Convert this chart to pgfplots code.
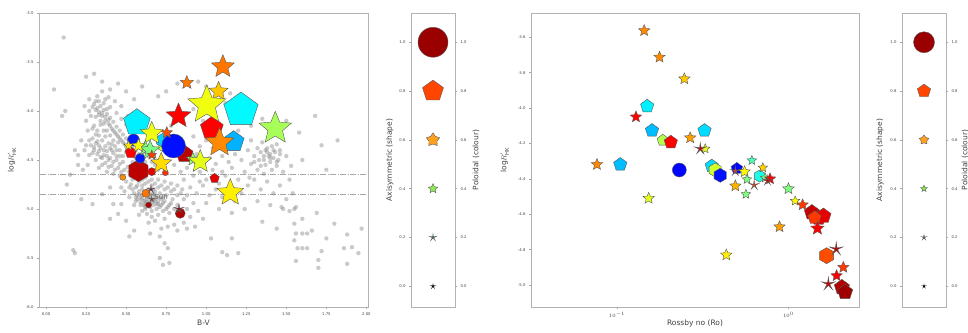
\documentclass[border=0pt]{standalone}
\usepackage{pgfplots}
\pgfplotsset{compat=1.18}
\usepackage{pgfplotstable}
\usepackage{fontspec}
\setmainfont{DejaVu Sans}

\newcommand\mystarpath[1]{%
  \pgfpathmoveto{\pgfpointpolar{90}{\pgfplotmarksize}}%
  \pgfpathlineto{\pgfpointpolar{126}{#1*\pgfplotmarksize}}%
  \pgfpathlineto{\pgfpointpolar{162}{\pgfplotmarksize}}%
  \pgfpathlineto{\pgfpointpolar{198}{#1*\pgfplotmarksize}}%
  \pgfpathlineto{\pgfpointpolar{234}{\pgfplotmarksize}}%
  \pgfpathlineto{\pgfpointpolar{270}{#1*\pgfplotmarksize}}%
  \pgfpathlineto{\pgfpointpolar{306}{\pgfplotmarksize}}%
  \pgfpathlineto{\pgfpointpolar{342}{#1*\pgfplotmarksize}}%
  \pgfpathlineto{\pgfpointpolar{18}{\pgfplotmarksize}}%
  \pgfpathlineto{\pgfpointpolar{54}{#1*\pgfplotmarksize}}%
  \pgfpathclose\pgfusepathqfillstroke}
\pgfdeclareplotmark{mst}{\mystarpath{0.45}}
\pgfdeclareplotmark{mfst}{\mystarpath{0.6}}
\pgfdeclareplotmark{mthin}{\mystarpath{0.2}}
\pgfdeclareplotmark{mpent}{%
  \pgfpathmoveto{\pgfpointpolar{90}{\pgfplotmarksize}}%
  \pgfpathlineto{\pgfpointpolar{162}{\pgfplotmarksize}}%
  \pgfpathlineto{\pgfpointpolar{234}{\pgfplotmarksize}}%
  \pgfpathlineto{\pgfpointpolar{306}{\pgfplotmarksize}}%
  \pgfpathlineto{\pgfpointpolar{18}{\pgfplotmarksize}}%
  \pgfpathclose\pgfusepathqfillstroke}
\pgfdeclareplotmark{mhex}{%
  \pgfpathmoveto{\pgfpointpolar{90}{\pgfplotmarksize}}%
  \pgfpathlineto{\pgfpointpolar{150}{\pgfplotmarksize}}%
  \pgfpathlineto{\pgfpointpolar{210}{\pgfplotmarksize}}%
  \pgfpathlineto{\pgfpointpolar{270}{\pgfplotmarksize}}%
  \pgfpathlineto{\pgfpointpolar{330}{\pgfplotmarksize}}%
  \pgfpathlineto{\pgfpointpolar{30}{\pgfplotmarksize}}%
  \pgfpathclose\pgfusepathqfillstroke}
\pgfdeclareplotmark{mcirc}{\pgfpathcircle{\pgfpointorigin}{\pgfplotmarksize}\pgfusepathqfillstroke}
\pgfdeclareplotmark{gdot}{\pgfpathcircle{\pgfpointorigin}{\pgfplotmarksize}\pgfusepathqfill}

\definecolor{lgA}{RGB}{155,0,0}
\definecolor{lgB}{RGB}{255,69,0}
\definecolor{lgC}{RGB}{255,160,30}
\definecolor{lgD}{RGB}{144,238,80}
\definecolor{lgE}{RGB}{30,165,165}

\pgfplotsset{
  base/.style={scale only axis, anchor=south west,
    axis line style={draw=gray!60, line width=0.7pt},
    tick style={draw=gray!70, line width=0.4pt},
    major tick length=2pt, minor tick length=1.2pt,
    tick align=outside, tick pos=left,
    ticklabel style={font=\fontsize{3.8}{4.5}\selectfont, text=black!75},
    label style={font=\fontsize{7.5}{9}\selectfont, text=black!75},
    /pgf/number format/assume math mode=true},
  myscat/.style={scatter, only marks, point meta=explicit,
    colormap/jet, point meta min=0, point meta max=1,
    scatter/use mapped color={draw=black!65, fill=mapped color},
    visualization depends on={\thisrow{r} \as \rr},
    scatter/@pre marker code/.append style={/tikz/mark size=\rr pt, /tikz/line width=0.4pt}},
  grayd/.style={only marks, mark=gdot, mark size=2.2pt, color=gray, mark options={fill=gray, fill opacity=0.42}},
}

\pgfplotstableread{
x y r c
1.217 -3.99 18 0.37
1.035 -4.177 12 0.875
1.171 -4.313 11 0.30
0.567 -4.119 14 0.36
0.864 -4.439 9 0.94
0.529 -4.425 6 0.875
1.052 -4.687 5 0.90
}\Lpent
\pgfplotstableread{
x y r c
0.733 -4.357 6 0.58
0.577 -4.609 11 0.94
0.728 -4.30 7 0.33
}\Lhex
\pgfplotstableread{
x y r c
0.796 -4.357 12 0.14
0.546 -4.296 6 0.15
0.5875 -4.483 5 0.15
0.8375 -5.044 5 0.95
0.623 -4.84 4 0.76
0.479 -4.677 3 0.74
0.66 -4.619 4 0.90
0.745 -4.63 3 0.83
0.64 -4.959 3 0.95
}\Lcirc
\pgfplotstableread{
x y r c
1.104 -3.548 12 0.76
0.879 -3.711 7 0.76
1.077 -3.80 10 0.68
1.004 -3.939 20 0.61
1.431 -4.177 17 0.54
0.827 -4.051 13 0.875
0.66 -4.228 12 0.61
0.62 -4.38 8 0.50
0.65 -4.40 10 0.50
0.754 -4.221 6 0.80
0.66 -4.45 5 0.82
0.917 -4.493 7 0.52
0.9625 -4.517 12 0.60
0.719 -4.534 11 0.66
1.15 -4.834 14 0.64
0.515 -4.354 5 0.65
0.577 -4.354 7 0.62
1.083 -4.323 15 0.74
}\Lst
\pgfplotstableread{
x y r c
0.83 -5.00 5 0.98
0.655 -4.80 4 0.98
0.66 -4.90 3 0.93
}\Lthin

\pgfplotstableread{
x y r c
0.150 -3.990 7 0.36
0.160 -4.127 7 0.31
0.185 -4.182 6 0.55
0.206 -4.193 7 0.875
0.324 -4.127 7 0.34
0.1045 -4.319 7 0.31
0.357 -4.328 7 0.34
0.50 -4.341 6 0.13
1.37 -4.59 8 0.93
1.50 -4.62 8 0.90
1.60 -4.61 8 0.90
1.42 -4.62 7 0.82
2.05 -5.013 8 0.95
2.14 -5.04 8 0.97
}\Rpent
\pgfplotstableread{
x y r c
0.374 -4.35 7 0.58
0.40 -4.38 7 0.14
0.678 -4.384 6 0.40
1.67 -4.834 8 0.80
}\Rhex
\pgfplotstableread{
x y r c
0.231 -4.35 7 0.13
}\Rcirc
\pgfplotstableread{
x y r c
0.144 -3.5625 6 0.74
0.177 -3.7126 6 0.74
0.247 -3.835 6 0.68
0.129 -4.05 6 0.875
0.267 -4.168 6 0.72
0.327 -4.23 5 0.60
0.0764 -4.319 6 0.74
0.153 -4.51 6 0.60
0.555 -4.36 6 0.63
0.612 -4.296 5 0.45
0.709 -4.337 5 0.67
0.49 -4.44 6 0.70
0.573 -4.403 5 0.50
0.565 -4.487 5 0.50
0.731 -4.394 5 0.50
0.781 -4.40 6 0.875
1.0 -4.456 6 0.50
1.094 -4.525 5 0.63
1.21 -4.547 6 0.82
1.476 -4.68 7 0.88
0.887 -4.671 6 0.72
0.434 -4.83 6 0.64
2.09 -4.90 6 0.82
1.91 -4.947 6 0.88
}\Rst
\pgfplotstableread{
x y r c
0.306 -4.23 6 0.92
0.49 -4.356 5 0.82
0.631 -4.435 5 0.82
0.755 -4.41 5 0.93
1.90 -4.797 7 0.95
1.71 -4.994 7 0.93
}\Rthin

\begin{document}
\begin{tikzpicture}
\useasboundingbox (0,0) rectangle (968pt,332pt);

% ---------- left main panel ----------
\begin{axis}[base, at={(39pt,25pt)}, width=329pt, height=294pt,
  xmin=-0.044, xmax=2.01, ymin=-6, ymax=-3,
  xtick={0,0.25,0.5,0.75,1,1.25,1.5,1.75,2},
  ytick={-6,-5.5,-5,-4.5,-4,-3.5,-3},
  xticklabel style={/pgf/number format/.cd, fixed, fixed zerofill, precision=2},
  yticklabel style={/pgf/number format/.cd, fixed, fixed zerofill, precision=1},
  xlabel={B-V}, ylabel={log$R'_{\mathrm{HK}}$},
  xlabel style={at={(axis description cs:0.5,-0.055)}, anchor=center},
  ylabel style={at={(axis description cs:-0.082,0.5)}, anchor=center}]
\addplot[grayd] coordinates {
(0.30,-3.93)(0.32,-3.97)(0.34,-3.95)(0.33,-4.01)(0.36,-3.99)(0.35,-4.05)(0.38,-4.03)(0.31,-4.06)(0.37,-4.10)(0.40,-4.07)
(0.39,-4.13)(0.42,-4.11)(0.34,-4.14)(0.41,-4.18)(0.44,-4.16)(0.43,-4.22)(0.46,-4.20)(0.38,-4.20)(0.45,-4.26)(0.48,-4.24)
(0.47,-4.30)(0.50,-4.28)(0.49,-4.34)(0.52,-4.32)(0.51,-4.38)(0.54,-4.36)(0.53,-4.42)(0.56,-4.40)(0.55,-4.46)(0.58,-4.44)
(0.57,-4.50)(0.60,-4.48)(0.59,-4.54)(0.62,-4.52)
(0.28,-4.35)(0.30,-4.40)(0.32,-4.44)(0.34,-4.38)(0.36,-4.45)(0.38,-4.41)(0.40,-4.48)(0.42,-4.43)(0.44,-4.50)(0.46,-4.46)
(0.48,-4.52)(0.35,-4.30)(0.39,-4.33)(0.43,-4.36)(0.33,-4.25)(0.29,-4.28)(0.27,-4.45)(0.31,-4.50)(0.37,-4.53)(0.41,-4.56)
(0.45,-4.58)(0.49,-4.60)(0.26,-4.20)(0.30,-4.15)(0.28,-4.05)(0.25,-4.10)(0.24,-3.95)(0.27,-3.88)(0.32,-3.85)(0.36,-3.92)
(0.40,-3.96)(0.44,-4.02)(0.47,-4.08)(0.50,-4.14)(0.53,-4.20)(0.51,-4.05)(0.55,-4.12)(0.47,-3.95)(0.43,-3.90)(0.39,-3.86)
(0.35,-3.80)(0.22,-4.30)(0.24,-4.40)(0.20,-4.45)(0.26,-4.55)(0.23,-4.60)(0.33,-4.58)(0.38,-4.62)(0.42,-4.64)(0.46,-4.66)
(0.52,-4.62)(0.56,-4.58)(0.60,-4.62)(0.63,-4.58)(0.40,-4.25)(0.36,-4.20)(0.42,-4.30)(0.46,-4.40)(0.50,-4.42)(0.44,-4.46)
(0.37,-4.36)(0.31,-4.33)(0.54,-4.52)(0.58,-4.56)(0.61,-4.42)(0.64,-4.46)(0.66,-4.52)(0.68,-4.55)(0.70,-4.60)(0.65,-4.62)
(0.33,-4.41)(0.35,-4.48)(0.39,-4.50)(0.41,-4.40)(0.37,-4.26)(0.41,-4.34)(0.45,-4.32)(0.34,-4.10)(0.38,-3.98)(0.32,-4.20)
(0.31,-3.99)(0.33,-4.04)(0.35,-4.02)(0.37,-4.06)(0.39,-4.09)(0.36,-4.13)(0.40,-4.15)(0.42,-4.20)(0.44,-4.24)(0.46,-4.28)
(0.48,-4.32)(0.50,-4.36)(0.52,-4.40)(0.54,-4.44)(0.56,-4.48)(0.58,-4.50)(0.30,-4.37)(0.32,-4.31)(0.34,-4.47)(0.36,-4.40)
(0.38,-4.46)(0.40,-4.38)(0.42,-4.52)(0.44,-4.40)(0.46,-4.54)(0.48,-4.46)(0.29,-4.43)(0.31,-4.24)(0.33,-4.35)(0.35,-4.55)
(0.39,-4.57)(0.43,-4.60)(0.47,-4.62)(0.51,-4.57)(0.53,-4.66)(0.57,-4.64)(0.61,-4.56)(0.27,-4.30)(0.25,-4.35)(0.29,-4.18)
(0.27,-4.00)(0.29,-3.96)(0.33,-3.90)(0.37,-3.88)(0.31,-3.90)
(0.50,-4.72)(0.53,-4.75)(0.56,-4.78)(0.55,-4.84)(0.58,-4.82)(0.60,-4.86)(0.57,-4.90)(0.61,-4.92)(0.63,-4.88)(0.59,-4.96)
(0.62,-4.98)(0.65,-4.94)(0.64,-4.84)(0.66,-4.90)(0.68,-4.86)(0.67,-4.96)(0.70,-4.92)(0.69,-5.00)(0.72,-4.96)(0.71,-4.88)
(0.74,-4.92)(0.73,-5.02)(0.76,-4.98)(0.75,-4.86)(0.78,-4.94)(0.77,-5.04)(0.80,-5.00)(0.79,-4.90)(0.82,-4.96)(0.60,-5.02)
(0.63,-5.05)(0.66,-5.08)(0.70,-5.06)(0.74,-5.10)(0.68,-5.12)(0.64,-5.14)(0.58,-5.06)(0.55,-4.96)(0.52,-4.88)(0.49,-4.82)
(0.47,-4.78)(0.54,-4.70)(0.58,-4.72)(0.62,-4.74)(0.66,-4.76)(0.70,-4.78)(0.74,-4.80)(0.78,-4.82)(0.82,-4.86)(0.86,-4.90)
(0.84,-5.06)(0.88,-5.00)(0.90,-5.08)(0.86,-5.14)(0.80,-5.16)(0.76,-5.18)(0.72,-5.20)(0.92,-4.94)(0.95,-5.02)(0.98,-5.10)
(0.60,-4.80)(0.64,-4.80)(0.68,-4.82)(0.61,-4.85)(0.65,-4.87)(0.67,-4.91)(0.63,-4.93)(0.69,-4.95)(0.57,-4.86)(0.71,-4.84)
(0.62,-4.83)(0.66,-4.85)(0.59,-4.89)(0.64,-4.90)(0.68,-4.92)(0.62,-4.95)(0.56,-4.92)(0.72,-4.90)(0.60,-4.76)(0.67,-4.80)
(0.58,-4.85)(0.60,-4.89)(0.62,-4.91)(0.64,-4.87)(0.66,-4.93)(0.68,-4.89)(0.70,-4.95)(0.63,-4.82)(0.61,-4.96)(0.65,-4.98)
(0.59,-4.93)(0.67,-4.85)(0.69,-4.88)(0.71,-4.98)(0.73,-4.94)(0.75,-5.00)(0.73,-4.88)(0.77,-4.96)(0.62,-5.00)(0.66,-5.02)
(0.56,-4.88)(0.54,-4.80)(0.52,-4.78)(0.57,-4.76)(0.60,-4.70)(0.64,-4.72)(0.68,-4.74)(0.72,-4.76)(0.76,-4.78)(0.80,-4.80)
(0.84,-4.84)(0.88,-4.86)(0.54,-4.64)(0.58,-4.66)(0.62,-4.68)(0.66,-4.70)(0.70,-4.70)(0.74,-4.72)(0.78,-4.74)(0.82,-4.76)
(0.65,-5.25)(0.76,-5.40)(0.77,-5.55)(0.71,-5.28)(0.82,-5.22)(0.88,-5.20)(0.93,-5.18)(0.55,-5.22)(0.50,-5.12)(0.47,-4.95)
(0.80,-4.55)(0.84,-4.62)(0.88,-4.58)(0.92,-4.66)(0.96,-4.62)(1.00,-4.70)(1.04,-4.60)(1.08,-4.74)(1.12,-4.66)(1.16,-4.58)
(1.20,-4.70)(1.24,-4.62)(1.28,-4.54)(1.32,-4.60)(1.36,-4.50)(1.40,-4.44)(1.44,-4.56)(1.48,-4.62)(1.52,-4.70)(1.34,-4.42)
(1.38,-4.38)(1.42,-4.48)(1.46,-4.40)(1.37,-4.55)(1.41,-4.60)(1.30,-4.46)(1.26,-4.40)(1.22,-4.50)(1.18,-4.44)(1.14,-4.52)
(1.10,-4.46)(1.06,-4.54)(1.02,-4.48)(0.98,-4.56)(0.94,-4.44)(0.90,-4.50)(0.86,-4.70)(0.90,-4.78)(0.94,-4.84)(0.98,-4.76)
(1.02,-4.86)(1.06,-4.80)(1.10,-4.88)(1.14,-4.78)(1.18,-4.92)(1.22,-4.84)(1.26,-4.76)(1.30,-4.70)(1.34,-4.80)(1.38,-4.72)
(1.42,-4.84)(1.46,-4.76)(1.50,-4.90)(1.54,-4.84)(1.56,-4.98)(1.48,-5.00)(1.40,-4.96)(1.32,-4.92)(1.24,-5.00)(1.16,-5.04)
(1.08,-5.00)(1.00,-4.94)(0.96,-4.72)(0.85,-4.80)(1.44,-4.34)(1.35,-4.32)(1.28,-4.30)(1.50,-4.46)(1.53,-4.56)(1.12,-4.40)
(1.04,-4.38)(0.96,-4.36)(0.88,-4.40)(0.84,-4.30)(0.92,-4.26)(1.00,-4.30)(1.16,-4.34)(1.20,-4.26)(1.32,-4.38)(1.40,-4.52)
(1.36,-4.64)(1.27,-4.68)(1.10,-4.62)(1.05,-4.66)(1.39,-4.46)(1.43,-4.42)(1.37,-4.40)(1.45,-4.50)(1.41,-4.36)(1.33,-4.50)
(1.38,-4.42)(1.40,-4.48)(1.42,-4.40)(1.36,-4.46)(1.44,-4.52)(1.34,-4.56)(1.30,-4.52)(1.46,-4.44)
(0.78,-4.15)(0.85,-4.05)(0.92,-3.98)(0.98,-4.10)(1.05,-4.00)(1.12,-3.92)(1.20,-4.20)(1.28,-4.15)(1.35,-4.08)(1.50,-4.10)
(1.58,-4.22)(0.75,-3.80)(0.82,-3.72)(0.95,-3.70)(1.00,-3.75)(1.15,-3.82)(0.70,-3.85)(0.60,-3.75)(0.55,-3.88)(0.50,-3.80)
(0.45,-3.72)(0.40,-3.78)(0.35,-3.70)(0.30,-3.62)(0.25,-3.65)(0.05,-3.78)(0.11,-3.25)(0.10,-4.05)(0.12,-4.00)(0.18,-4.40)
(0.20,-4.55)(0.15,-4.65)(0.13,-4.75)(0.22,-4.90)(0.17,-5.42)(0.18,-5.45)(0.29,-4.95)(0.35,-4.85)(0.40,-4.78)(0.42,-4.95)
(0.40,-5.10)(0.45,-5.05)(0.52,-5.28)(1.03,-5.30)(1.16,-5.30)(1.20,-5.45)(1.55,-5.00)(1.60,-4.50)(1.68,-4.05)(1.72,-4.35)
(1.82,-4.30)(1.75,-4.60)
(1.35,-5.13)(1.44,-5.20)(1.55,-5.15)(1.69,-5.04)(1.80,-5.15)(1.56,-5.25)(1.60,-5.25)(1.63,-5.25)(1.55,-5.32)(1.57,-5.40)
(1.60,-5.40)(1.63,-5.40)(1.72,-5.43)(1.56,-5.53)(1.70,-5.52)(1.70,-5.60)(1.88,-5.26)(1.86,-5.40)(1.91,-5.39)(1.88,-5.56)
(1.60,-5.10)(1.66,-5.22)(1.75,-5.30)(1.95,-5.45)(1.97,-5.20)(1.52,-5.02)(1.47,-4.98)(1.10,-5.44)(1.13,-5.47)(0.71,-5.50)
(0.74,-5.35)(0.73,-5.57)
};
\addplot[gray!70, line width=0.6pt, dash pattern=on 6pt off 1.5pt on 1pt off 1.5pt] coordinates {(-0.1,-4.65)(2.1,-4.65)};
\addplot[gray!70, line width=0.6pt, dash pattern=on 6pt off 1.5pt on 1pt off 1.5pt] coordinates {(-0.1,-4.85)(2.1,-4.85)};
\addplot[myscat, mark=mpent] table[x=x,y=y,meta=c] {\Lpent};
\addplot[myscat, mark=mhex] table[x=x,y=y,meta=c] {\Lhex};
\addplot[myscat, mark=mcirc] table[x=x,y=y,meta=c] {\Lcirc};
\addplot[myscat, mark=mst] table[x=x,y=y,meta=c] {\Lst};
\addplot[myscat, mark=mthin] table[x=x,y=y,meta=c] {\Lthin};
\node[anchor=west, font=\fontsize{7}{8}\selectfont, text=black!70] at (axis cs:0.655,-4.88) {Sun};
\end{axis}

% ---------- left shape/colour key ----------
\begin{axis}[base, at={(411pt,25pt)}, width=44pt, height=294pt,
  xmin=-1, xmax=1, ymin=-0.085, ymax=1.12, xtick=\empty,
  ytick={0,0.2,0.4,0.6,0.8,1}, yticklabels={0.0,0.2,0.4,0.6,0.8,1.0},
  ylabel={Axisymmetric (shape)},
  ylabel style={at={(axis description cs:-0.48,0.5)}, anchor=center}]
\addplot[only marks, mark=mcirc, mark size=15pt, mark options={fill=lgA, draw=black!65, line width=0.4pt}] coordinates {(0,1)};
\addplot[only marks, mark=mpent, mark size=11pt, mark options={fill=lgB, draw=black!65, line width=0.4pt}] coordinates {(0,0.8)};
\addplot[only marks, mark=mfst, mark size=7pt, mark options={fill=lgC, draw=black!65, line width=0.4pt}] coordinates {(0,0.6)};
\addplot[only marks, mark=mst, mark size=5pt, mark options={fill=lgD, draw=black!65, line width=0.4pt}] coordinates {(0,0.4)};
\addplot[only marks, mark=mthin, mark size=3.5pt, mark options={fill=lgE, draw=black!65, line width=0.4pt}] coordinates {(0,0.2)};
\addplot[only marks, mark=mthin, mark size=2pt, mark options={fill=black, draw=black, line width=0.4pt}] coordinates {(0,0)};
\end{axis}
\begin{axis}[base, at={(411pt,25pt)}, width=44pt, height=294pt,
  xmin=-1, xmax=1, ymin=-0.085, ymax=1.12, xtick=\empty,
  axis line style={draw=none}, ytick pos=right, yticklabel pos=right,
  ytick={0,0.2,0.4,0.6,0.8,1}, yticklabels={0.0,0.2,0.4,0.6,0.8,1.0},
  ylabel={Poloidal (colour)},
  ylabel style={at={(axis description cs:1.48,0.5)}, anchor=center}]
\end{axis}

% ---------- right main panel ----------
\begin{axis}[base, at={(531pt,25pt)}, width=328pt, height=294pt,
  xmode=log, xmin=0.0315, xmax=2.58, ymin=-5.124, ymax=-3.463,
  xtick={0.1,1}, xticklabels={$10^{-1}$,$10^{0}$},
  ytick={-5,-4.8,-4.6,-4.4,-4.2,-4,-3.8,-3.6},
  yticklabel style={/pgf/number format/.cd, fixed, fixed zerofill, precision=1},
  xlabel={Rossby no (Ro)}, ylabel={log$R'_{\mathrm{HK}}$},
  xlabel style={at={(axis description cs:0.5,-0.055)}, anchor=center},
  ylabel style={at={(axis description cs:-0.08,0.5)}, anchor=center}]
\addplot[myscat, mark=mpent] table[x=x,y=y,meta=c] {\Rpent};
\addplot[myscat, mark=mhex] table[x=x,y=y,meta=c] {\Rhex};
\addplot[myscat, mark=mcirc] table[x=x,y=y,meta=c] {\Rcirc};
\addplot[myscat, mark=mst] table[x=x,y=y,meta=c] {\Rst};
\addplot[myscat, mark=mthin] table[x=x,y=y,meta=c] {\Rthin};
\end{axis}

% ---------- right shape/colour key ----------
\begin{axis}[base, at={(902pt,25pt)}, width=44pt, height=294pt,
  xmin=-1, xmax=1, ymin=-0.085, ymax=1.12, xtick=\empty,
  ytick={0,0.2,0.4,0.6,0.8,1}, yticklabels={0.0,0.2,0.4,0.6,0.8,1.0},
  ylabel={Axisymmetric (shape)},
  ylabel style={at={(axis description cs:-0.5,0.5)}, anchor=center}]
\addplot[only marks, mark=mcirc, mark size=10.5pt, mark options={fill=lgA, draw=black!65, line width=0.4pt}] coordinates {(0,1)};
\addplot[only marks, mark=mpent, mark size=7pt, mark options={fill=lgB, draw=black!65, line width=0.4pt}] coordinates {(0,0.8)};
\addplot[only marks, mark=mfst, mark size=5pt, mark options={fill=lgC, draw=black!65, line width=0.4pt}] coordinates {(0,0.6)};
\addplot[only marks, mark=mst, mark size=3.5pt, mark options={fill=lgD, draw=black!65, line width=0.4pt}] coordinates {(0,0.4)};
\addplot[only marks, mark=mthin, mark size=2.5pt, mark options={fill=lgE!60!black, draw=black!65, line width=0.4pt}] coordinates {(0,0.2)};
\addplot[only marks, mark=mthin, mark size=1.5pt, mark options={fill=black, draw=black, line width=0.4pt}] coordinates {(0,0)};
\end{axis}
\begin{axis}[base, at={(902pt,25pt)}, width=44pt, height=294pt,
  xmin=-1, xmax=1, ymin=-0.085, ymax=1.12, xtick=\empty,
  axis line style={draw=none}, ytick pos=right, yticklabel pos=right,
  ytick={0,0.2,0.4,0.6,0.8,1}, yticklabels={0.0,0.2,0.4,0.6,0.8,1.0},
  ylabel={Poloidal (colour)},
  ylabel style={at={(axis description cs:1.43,0.5)}, anchor=center}]
\end{axis}
\end{tikzpicture}
\end{document}
